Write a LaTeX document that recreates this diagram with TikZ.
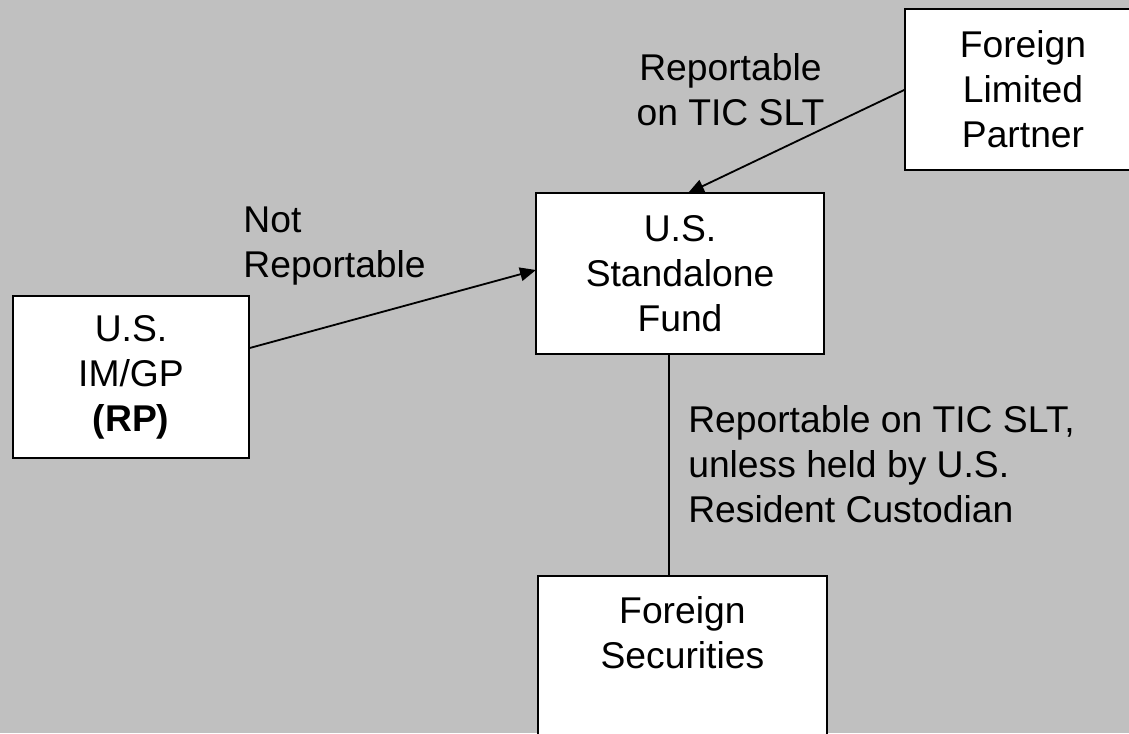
\documentclass[tikz,border=0pt]{standalone}
\usepackage{fontspec}
\setmainfont{Liberation Sans}
\usetikzlibrary{positioning,arrows.meta}
\definecolor{bggray}{RGB}{192,192,192}

\begin{document}
\begin{tikzpicture}[
        box/.style={rectangle, draw=black, fill=white, line width=1.4pt, align=center, outer sep=0pt, minimum height=4.025cm, font=\fontsize{26.5}{32}\selectfont},
        lbl/.style={inner sep=0pt, text=black, font=\fontsize{26.5}{32}\selectfont},
        flow/.style={line width=1.3pt, -{Triangle[length=0.4cm, width=0.34cm]}},
        link/.style={line width=1.3pt}
    ]

    % Background
    \useasboundingbox (0,0) rectangle (28.225,-18.325);
    \clip (0,0) rectangle (28.225,-18.325);
    \fill[bggray] (0,0) rectangle (28.225,-18.325);

    % Boxes
    \node[box, minimum width=5.9cm] (flp) at (25.575,-2.24) {Foreign\\Limited\\Partner};
    \node[box, minimum width=7.2cm] (fund) at (17.0,-6.84) {U.S.\\Standalone\\Fund};
    \node[box, minimum width=5.9cm, minimum height=4.05cm] (imgp) at (3.275,-9.425) {U.S.\\IM/GP\\\textbf{(RP)}};
    \node[box, minimum width=7.225cm, minimum height=0pt, anchor=north, inner ysep=0.52cm, text depth=6cm] (secu) at (17.06,-14.4) {Foreign\\Securities};

    % Connectors
    \draw[flow] (flp.west) -- ([xshift=0.2cm]fund.north);
    \draw[flow] ([yshift=0.72cm]imgp.east) -- ([yshift=0.09cm]fund.west);
    \draw[link] ([xshift=-0.28cm]fund.south) -- ([xshift=-0.28cm]fund.south |- secu.north);

    % Labels
    \node[lbl, align=center] (lflp) at (18.26,-2.244) {Reportable\\on TIC SLT};
    \node[lbl, align=left, anchor=west] (limgp) at (6.08,-6.15) {Not\\Reportable};
    \node[lbl, align=left, anchor=west] (lsecu) at (17.2,-11.6) {Reportable on TIC SLT,\\unless held by U.S.\\Resident Custodian};
\end{tikzpicture}
\end{document}
